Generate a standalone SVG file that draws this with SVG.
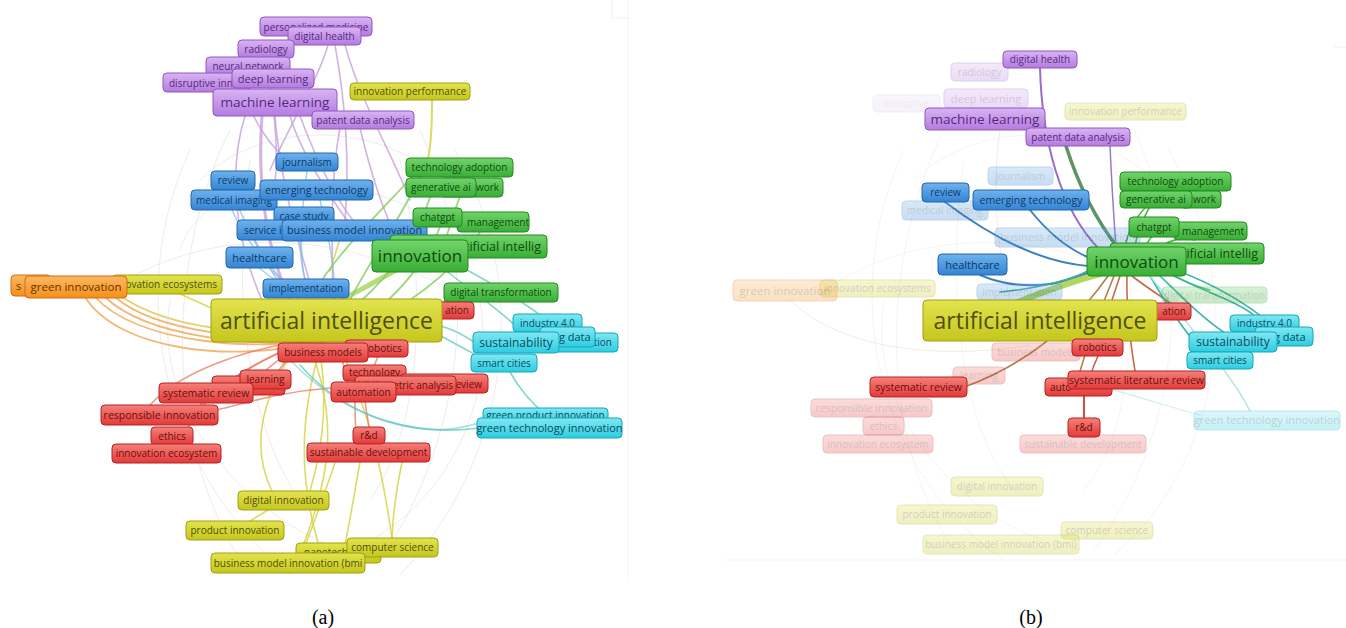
<svg xmlns="http://www.w3.org/2000/svg" width="1346" height="628" viewBox="0 0 1346 628">
<defs>
<linearGradient id="gpu" x1="0" y1="0" x2="0" y2="1"><stop offset="0" stop-color="#d9b4f3"/><stop offset="1" stop-color="#b37bdf"/></linearGradient>
<linearGradient id="gye" x1="0" y1="0" x2="0" y2="1"><stop offset="0" stop-color="#e3e34e"/><stop offset="1" stop-color="#c6c61e"/></linearGradient>
<linearGradient id="gbl" x1="0" y1="0" x2="0" y2="1"><stop offset="0" stop-color="#6fb2ee"/><stop offset="1" stop-color="#3384d4"/></linearGradient>
<linearGradient id="ggr" x1="0" y1="0" x2="0" y2="1"><stop offset="0" stop-color="#72d46c"/><stop offset="1" stop-color="#38ae34"/></linearGradient>
<linearGradient id="gre" x1="0" y1="0" x2="0" y2="1"><stop offset="0" stop-color="#f6807a"/><stop offset="1" stop-color="#e23a38"/></linearGradient>
<linearGradient id="gcy" x1="0" y1="0" x2="0" y2="1"><stop offset="0" stop-color="#80e8f2"/><stop offset="1" stop-color="#2ccde0"/></linearGradient>
<linearGradient id="gor" x1="0" y1="0" x2="0" y2="1"><stop offset="0" stop-color="#fcb862"/><stop offset="1" stop-color="#f5901a"/></linearGradient>
</defs>
<style>
text{font-family:"Open Sans","Liberation Sans",sans-serif;font-size:10px;text-anchor:middle}
.n rect{rx:4px;ry:4px;stroke-width:1}
.pu rect{fill:url(#gpu);stroke:#9256c2}.pu text{fill:#58287a}
.ye rect{fill:url(#gye);stroke:#a0a012}.ye text{fill:#50500c}
.bl rect{fill:url(#gbl);stroke:#2366ad}.bl text{fill:#0e3964}
.gr rect{fill:url(#ggr);stroke:#238a20}.gr text{fill:#0f4a0e}
.re rect{fill:url(#gre);stroke:#b52222}.re text{fill:#681010}
.cy rect{fill:url(#gcy);stroke:#16a6ba}.cy text{fill:#0c4c5e}
.or rect{fill:url(#gor);stroke:#d06e0e}.or text{fill:#683400}
.f{opacity:.27}.ff{opacity:.1}
.s11 text{font-size:11px}.m text{font-size:13.5px}.l text{font-size:17px}.xl text{font-size:23px}.s12 text{font-size:12px}
.st{text-anchor:start}.en{text-anchor:end}
#edges path,#edges-b path{fill:none;stroke-linecap:round}
.bg{stroke:#ededed;stroke-width:1}
.ep{stroke:#c49ad8;stroke-width:1.6;opacity:.75}
.ey{stroke:#d2d240;stroke-width:1.6;opacity:.8}
.eg{stroke:#84cc62;stroke-width:1.8;opacity:.8}
.eo{stroke:#eea04a;stroke-width:1.8;opacity:.75}
.er{stroke:#e87a62;stroke-width:1.6;opacity:.75}
.ec{stroke:#5cc6be;stroke-width:1.6;opacity:.75}
.eb{stroke:#86b6e0;stroke-width:1.5;opacity:.7}
.cap{font-family:"Liberation Serif",serif;font-size:20px;fill:#000}
</style>
<rect x="0" y="0" width="1346" height="628" fill="#fff"/>
<g id="frames" fill="none" stroke="#f0f0f0">
<path d="M612 0 V18 H628"/>
<path d="M628 0 V582" stroke="#f5f5f5"/>
<path d="M1334 47 H1346"/>
<path d="M725 560 H1346" stroke="#f5f5f5"/>
</g>

<g id="edges">
<path class="bg" d="M190 150 C120 300 170 480 290 575"/>
<path class="bg" d="M455 150 C540 300 500 470 400 575"/>
<path class="bg" d="M230 130 C170 250 160 430 240 560"/>
<path class="bg" d="M420 130 C480 260 470 430 380 560"/>
<path class="bg" d="M200 180 C260 120 380 120 440 180"/>
<path class="bg" d="M180 250 C200 180 330 150 450 230"/>
<path class="bg" d="M170 300 C150 420 260 520 330 545"/>
<path class="bg" d="M480 300 C500 430 420 520 360 545"/>
<path class="bg" d="M110 290 C200 230 330 220 470 300"/>
<path class="bg" d="M250 160 C230 300 250 430 300 500"/>
<path class="bg" d="M400 160 C430 300 420 430 370 500"/>
<path class="ep" d="M262 116 C258 170 262 240 290 300" style="stroke-width:3"/>
<path class="ep" d="M275 116 C280 180 300 250 315 300"/>
<path class="ep" d="M300 116 C320 170 350 230 380 245"/>
<path class="ep" d="M245 116 C228 170 235 240 262 300"/>
<path class="ep" d="M328 45 C318 80 292 120 270 170"/>
<path class="ep" d="M345 45 C360 100 390 150 410 200"/>
<path class="ep" d="M335 45 C345 100 350 160 345 220"/>
<path class="ep" d="M290 116 C300 150 330 200 362 240"/>
<path class="ep" d="M268 58 C272 100 282 160 272 200"/>
<path class="ep" d="M360 128 C370 170 382 210 398 240"/>
<path class="ep" d="M340 128 C330 180 332 240 333 300"/>
<path class="ep" d="M240 90 C255 120 270 150 290 160"/>
<path class="ey" d="M432 99 C432 130 430 150 428 158" style="stroke-width:2"/>
<path class="ey" d="M300 342 C258 400 252 450 272 491"/>
<path class="ey" d="M318 342 C330 400 322 450 310 491"/>
<path class="ey" d="M322 342 C298 420 300 480 318 543"/>
<path class="ey" d="M338 342 C372 420 382 470 392 538"/>
<path class="ey" d="M308 342 C340 420 330 480 300 553"/>
<path class="ey" d="M250 521 L268 510"/>
<path class="ey" d="M335 463 C322 500 312 530 302 553"/>
<path class="ey" d="M402 462 C396 490 393 515 392 538"/>
<path class="ey" d="M360 462 C355 490 350 520 345 545"/>
<path class="ey" d="M180 294 C205 305 220 312 232 318"/>
<path class="ey" d="M330 271 C335 255 340 240 342 230"/>
<path class="eg" d="M396 270 C372 284 352 294 338 302" style="stroke-width:5;stroke:#a4d45c"/>
<path class="eg" d="M420 177 C400 220 370 260 350 300"/>
<path class="eg" d="M430 197 C420 232 395 270 362 300"/>
<path class="eg" d="M440 227 C430 252 410 280 388 300"/>
<path class="eg" d="M480 232 C460 262 432 285 410 300"/>
<path class="eg" d="M446 300 C440 303 436 306 432 310"/>
<path class="eg" d="M412 177 C380 212 330 260 310 300"/>
<path class="eg" d="M466 177 C460 200 450 220 446 240"/>
<path class="eo" d="M95 297 C140 345 260 352 330 338"/>
<path class="eo" d="M105 297 C150 340 260 346 325 342"/>
<path class="eo" d="M115 297 C160 336 262 338 320 340"/>
<path class="eo" d="M85 297 C120 352 232 360 300 345"/>
<path class="eo" d="M122 297 C172 330 252 335 312 330" style="stroke:#d8c040"/>
<path class="er" d="M250 383 C270 366 285 355 300 343"/>
<path class="er" d="M200 405 C230 376 270 356 300 343"/>
<path class="er" d="M180 444 C200 392 250 362 305 343"/>
<path class="er" d="M150 405 C180 372 240 352 290 343"/>
<path class="er" d="M262 389 C276 376 286 362 296 345"/>
<path class="er" d="M216 410 C250 402 280 392 330 388"/>
<path class="er" d="M365 401 C366 410 368 420 369 427"/>
<path class="er" d="M343 362 C345 380 350 395 352 400"/>
<path class="er" d="M378 356 C374 368 368 378 366 382"/>
<path class="er" d="M355 402 C355 420 356 432 356 443"/>
<path class="ec" d="M441 326 C455 330 465 336 474 342"/>
<path class="ec" d="M440 266 C470 290 500 310 520 330"/>
<path class="ec" d="M452 262 C490 282 520 300 540 315"/>
<path class="ec" d="M300 365 C350 422 420 436 480 428"/>
<path class="ec" d="M290 360 C360 432 440 440 486 420" style="opacity:.5"/>
<path class="ec" d="M510 372 C520 390 530 400 540 410"/>
<path class="ec" d="M441 336 C466 350 478 356 490 362"/>
<path class="eb" d="M259 268 C280 285 300 295 310 300"/>
<path class="eb" d="M232 189 C245 230 270 270 290 300"/>
<path class="eb" d="M232 210 C250 250 280 280 300 300"/>
<path class="eb" d="M307 171 C300 220 300 260 305 280"/>
<path class="eb" d="M320 200 C330 240 335 270 335 300"/>
<path class="eb" d="M300 241 C300 260 305 280 308 290"/>
<path class="eb" d="M255 240 C270 270 290 290 300 300"/>
</g>

<g id="edges-b">
<path class="bg" d="M904 150 C834 300 884 480 1004 560" style="opacity:.6"/>
<path class="bg" d="M1169 150 C1254 300 1214 470 1114 555" style="opacity:.6"/>
<path class="bg" d="M944 130 C884 250 874 430 954 550" style="opacity:.6"/>
<path class="bg" d="M1134 130 C1194 260 1184 430 1094 550" style="opacity:.6"/>
<path class="bg" d="M914 180 C974 120 1094 120 1154 180" style="opacity:.6"/>
<path class="bg" d="M884 300 C864 420 974 520 1044 540" style="opacity:.6"/>
<path class="bg" d="M824 290 C914 230 1044 220 1184 300" style="opacity:.6"/>
<path class="bg" d="M964 160 C944 300 964 430 1014 490" style="opacity:.6"/>
<path class="bg" d="M1114 160 C1144 300 1134 430 1084 490" style="opacity:.6"/>
<path class="bg" d="M790 300 C840 350 940 360 1030 345" style="opacity:.6;stroke:#f6dcc0"/>
<path class="bg" d="M1000 130 C990 200 1000 260 1010 300" style="opacity:.6;stroke:#e8d8f0"/>
<path d="M1040 68 C1042 140 1060 210 1100 250" stroke="#9a6cc4" stroke-width="2"/>
<path d="M1066 146 C1080 190 1100 225 1118 248" stroke="#5c9466" stroke-width="3.5"/>
<path d="M1110 146 C1112 190 1114 220 1116 248" stroke="#9a7cc0" stroke-width="1.5"/>
<path d="M945 202 C990 236 1040 262 1088 266" stroke="#3c82bf" stroke-width="2"/>
<path d="M1030 210 C1050 235 1070 250 1090 258" stroke="#3c82bf" stroke-width="2"/>
<path d="M980 275 C1020 292 1060 286 1090 272" stroke="#3c82bf" stroke-width="2"/>
<path d="M1000 292 C1040 288 1070 280 1090 270" stroke="#4aa8a0" stroke-width="1.5"/>
<path d="M1100 274 C1070 282 1035 295 1010 305" stroke="#b0d860" stroke-width="6"/>
<path d="M1135 247 C1138 225 1150 205 1160 191" stroke="#4cb848" stroke-width="1.6"/>
<path d="M1125 247 C1128 230 1138 215 1145 208" stroke="#4cb848" stroke-width="1.6"/>
<path d="M1145 247 C1150 236 1160 228 1165 222" stroke="#4cb848" stroke-width="1.6"/>
<path d="M1160 247 C1170 240 1185 236 1195 240" stroke="#4cb848" stroke-width="1.6"/>
<path d="M1175 276 C1190 284 1200 288 1210 290" stroke="#6cc060" stroke-width="1.5"/>
<path d="M1120 276 C1112 300 1105 320 1100 339" stroke="#c86a48" stroke-width="1.6"/>
<path d="M1127 276 C1126 310 1130 340 1135 371" stroke="#c86a48" stroke-width="1.6"/>
<path d="M1114 276 C1100 310 1086 350 1078 378" stroke="#b87a48" stroke-width="1.6"/>
<path d="M1132 276 C1150 290 1164 298 1170 303" stroke="#c86a48" stroke-width="1.6"/>
<path d="M1084 395 L1084 418" stroke="#d05040" stroke-width="2"/>
<path d="M1098 356 C1094 364 1092 370 1090 378" stroke="#d05040" stroke-width="1.5"/>
<path d="M967 386 C1020 366 1070 330 1108 276" stroke="#a88450" stroke-width="1.6"/>
<path d="M1160 276 C1185 300 1205 320 1225 333" stroke="#3cb6ae" stroke-width="1.6"/>
<path d="M1170 274 C1200 290 1235 300 1255 316" stroke="#3cb6ae" stroke-width="1.6"/>
<path d="M1176 270 C1215 285 1250 305 1275 328" stroke="#3cb6ae" stroke-width="1.6"/>
<path d="M1150 276 C1170 310 1190 340 1205 352" stroke="#3cb6ae" stroke-width="1.6"/>
<path d="M1150 276 C1200 340 1235 380 1250 411" stroke="#a8e2e2" stroke-width="1.3"/>
<path d="M1110 389 C1150 400 1180 410 1200 415" stroke="#d8eeee" stroke-width="1.3"/>
</g>

<!-- Panel (a) nodes -->
<g id="a-personalized-medicine" class="n pu"><rect x="260" y="17" width="112" height="19"/><text x="316" y="30.5">personalized medicine</text></g>
<g id="a-digital-health" class="n pu"><rect x="288" y="27" width="73" height="18"/><text x="324.5" y="39.6">digital health</text></g>
<g id="a-radiology" class="n pu"><rect x="238" y="40" width="56" height="18"/><text x="266" y="52.6">radiology</text></g>
<g id="a-neural-network" class="n pu"><rect x="206" y="57" width="84" height="19"/><text x="248" y="70">neural network</text></g>
<g id="a-disruptive" class="n pu"><rect x="163" y="73" width="87" height="19"/><text class="st" x="169" y="86.5">disruptive inn</text></g>
<g id="a-deep-learning" class="n pu s11"><rect x="232" y="69" width="82" height="19"/><text x="273" y="82.5">deep learning</text></g>
<g id="a-machine-learning" class="n pu m"><rect x="213" y="89" width="124" height="27"/><text x="275" y="107.4">machine learning</text></g>
<g id="a-patent-data-analysis" class="n pu"><rect x="312" y="111" width="102" height="18"/><text x="363" y="123.6">patent data analysis</text></g>
<g id="a-innovation-performance" class="n ye"><rect x="350" y="83" width="120" height="17"/><text x="410" y="95.1">innovation performance</text></g>

<g id="a-journalism" class="n bl"><rect x="276" y="153" width="62" height="18"/><text x="307" y="165.6">journalism</text></g>
<g id="a-review" class="n bl"><rect x="211" y="171" width="44" height="19"/><text x="233" y="184.1">review</text></g>
<g id="a-medical-imaging" class="n bl"><rect x="191" y="190" width="86" height="20"/><text x="234" y="203.6">medical imaging</text></g>
<g id="a-emerging-technology" class="n bl"><rect x="260" y="180" width="113" height="20"/><text x="316.5" y="193.7" style="font-size:10.5px">emerging technology</text></g>
<g id="a-case-study" class="n bl"><rect x="274" y="207" width="60" height="18"/><text x="304" y="219.6">case study</text></g>
<g id="a-service" class="n bl"><rect x="237" y="220" width="65" height="20"/><text class="st" x="244" y="233.6">service i</text></g>
<g id="a-business-model-innovation" class="n bl"><rect x="282" y="220" width="145" height="21"/><text x="354.5" y="234.4" style="font-size:10.8px">business model innovation</text></g>
<g id="a-healthcare" class="n bl s11"><rect x="226" y="247" width="67" height="21"/><text x="259.5" y="261.5">healthcare</text></g>
<g id="a-implementation" class="n bl"><rect x="263" y="279" width="86" height="19"/><text x="306" y="292.2">implementation</text></g>

<g id="a-technology-adoption" class="n gr"><rect x="406" y="158" width="107" height="19"/><text x="459.5" y="171.1">technology adoption</text></g>
<g id="a-network" class="n gr"><rect x="440" y="178" width="63" height="19"/><text class="en" x="499" y="191.1">work</text></g>
<g id="a-generative-ai" class="n gr"><rect x="406" y="178" width="70" height="19"/><text x="441" y="191.1">generative ai</text></g>
<g id="a-artificial-intellig" class="n gr"><rect x="390" y="235" width="157" height="23"/><text class="en" x="541" y="251" style="font-size:12.5px">tificial intellig</text></g>
<g id="a-management" class="n gr"><rect x="457" y="212" width="72" height="20"/><text x="498" y="225.6">management</text></g>
<g id="a-chatgpt" class="n gr"><rect x="413" y="208" width="49" height="19"/><text x="437.5" y="221.1">chatgpt</text></g>
<g id="a-innovation" class="n gr l"><rect x="372" y="240" width="96" height="32"/><text x="420" y="262.1">innovation</text></g>
<g id="a-digital-transformation" class="n gr"><rect x="444" y="283" width="114" height="19"/><text x="501" y="296.1">digital transformation</text></g>

<g id="a-innovation-ecosystems" class="n ye"><rect x="112" y="275" width="110" height="19"/><text class="en" x="217" y="288.1">novation ecosystems</text></g>
<g id="a-s" class="n or"><rect x="11" y="275" width="40" height="21"/><text class="st" x="16" y="289.5" style="font-size:11px">s</text></g>
<g id="a-green-innovation" class="n or"><rect x="25" y="276" width="102" height="22"/><text x="76" y="291.2" style="font-size:11.5px">green innovation</text></g>

<g id="a-ation" class="n re"><rect x="400" y="302" width="74" height="17"/><text class="en" x="469" y="314.4">ation</text></g>
<g id="a-artificial-intelligence" class="n ye xl"><rect x="211" y="299" width="231" height="43"/><text x="326.5" y="328.8">artificial intelligence</text></g>

<g id="a-robotics" class="n re"><rect x="345" y="340" width="63" height="17"/><text class="st" x="368" y="352.4">obotics</text></g>
<g id="a-business-models" class="n re"><rect x="278" y="343" width="90" height="19"/><text x="323" y="356.1">business models</text></g>
<g id="a-technology" class="n re"><rect x="343" y="365" width="63" height="16"/><text x="374.5" y="376">technology</text></g>
<g id="a-eview" class="n re"><rect x="400" y="374" width="88" height="19"/><text class="en" x="482" y="387.6">eview</text></g>
<g id="a-bibliometric-analysis" class="n re"><rect x="355" y="376" width="101" height="19"/><text x="405.5" y="389.1">bibliometric analysis</text></g>
<g id="a-automation" class="n re"><rect x="331" y="382" width="65" height="20"/><text x="363.5" y="395.6">automation</text></g>
<g id="a-red-hidden" class="n re"><rect x="212" y="376" width="73" height="19"/></g>
<g id="a-learning" class="n re"><rect x="240" y="370" width="51" height="19"/><text x="265.5" y="383.1">learning</text></g>
<g id="a-systematic-review" class="n re"><rect x="159" y="383" width="94" height="20"/><text x="206" y="396.7" style="font-size:10.5px">systematic review</text></g>
<g id="a-responsible-innovation" class="n re"><rect x="101" y="405" width="117" height="20"/><text x="159.5" y="418.7" style="font-size:10.5px">responsible innovation</text></g>
<g id="a-ethics" class="n re"><rect x="151" y="427" width="42" height="18"/><text x="172" y="439.6">ethics</text></g>
<g id="a-innovation-ecosystem" class="n re"><rect x="112" y="444" width="109" height="19"/><text x="166.5" y="457.1">innovation ecosystem</text></g>
<g id="a-sustainable-development" class="n re"><rect x="307" y="443" width="123" height="19"/><text x="368.5" y="456.1">sustainable development</text></g>
<g id="a-rd" class="n re"><rect x="353" y="427" width="32" height="17"/><text x="369" y="439.1">r&amp;d</text></g>

<g id="a-industry" class="n cy"><rect x="513" y="314" width="69" height="18"/><text x="547.5" y="326.6">industry 4.0</text></g>
<g id="a-tion" class="n cy"><rect x="540" y="333" width="78" height="19"/><text class="en" x="612" y="346.1">tion</text></g>
<g id="a-big-data" class="n cy s11"><rect x="540" y="327" width="55" height="20"/><text x="570" y="341">big data</text></g>
<g id="a-sustainability" class="n cy s12"><rect x="473" y="332" width="86" height="21"/><text x="516" y="346.8">sustainability</text></g>
<g id="a-smart-cities" class="n cy"><rect x="471" y="354" width="66" height="18"/><text x="504" y="366.6">smart cities</text></g>
<g id="a-green-product-innovation" class="n cy"><rect x="483" y="408" width="125" height="16"/><text x="545.5" y="419">green product innovation</text></g>
<g id="a-green-technology-innovation" class="n cy s11"><rect x="477" y="418" width="145" height="20"/><text x="549.5" y="431.9">green technology innovation</text></g>

<g id="a-digital-innovation" class="n ye"><rect x="238" y="491" width="91" height="19"/><text x="283.5" y="504.1">digital innovation</text></g>
<g id="a-product-innovation" class="n ye"><rect x="186" y="521" width="98" height="19"/><text x="235" y="534.1">product innovation</text></g>
<g id="a-nanotech" class="n ye"><rect x="296" y="543" width="85" height="20"/><text class="st" x="304" y="556">nanotech</text></g>
<g id="a-computer-science" class="n ye"><rect x="347" y="538" width="91" height="19"/><text x="392.5" y="551.1">computer science</text></g>
<g id="a-bmi" class="n ye"><rect x="211" y="553" width="154" height="20"/><text x="288" y="566.6">business model innovation (bmi</text></g>

<!-- Panel (b) faded nodes -->
<g id="b-disruptive" class="n pu ff"><rect x="873" y="95" width="67" height="17"/><text x="906" y="107">disruptive</text></g>
<g id="b-radiology" class="n pu f"><rect x="951" y="63" width="57" height="18"/><text x="979.5" y="75.6">radiology</text></g>
<g id="b-deep-learning" class="n pu f s11"><rect x="944" y="89" width="84" height="19"/><text x="986" y="102.5">deep learning</text></g>
<g id="b-innovation-performance" class="n ye f"><rect x="1065" y="103" width="121" height="17"/><text x="1125.5" y="115.1">innovation performance</text></g>
<g id="b-journalism" class="n bl f"><rect x="988" y="167" width="65" height="18"/><text x="1020.5" y="179.6">journalism</text></g>
<g id="b-medical-imaging" class="n bl f"><rect x="902" y="201" width="86" height="19"/><text x="945" y="214.1">medical imaging</text></g>
<g id="b-business-model-innovation" class="n bl f"><rect x="995" y="228" width="145" height="19"/><text x="1067.5" y="241.3" style="font-size:10.8px">business model innovation</text></g>
<g id="b-innovation-ecosystems" class="n ye f"><rect x="820" y="280" width="115" height="17"/><text x="877.5" y="292.1">innovation ecosystems</text></g>
<g id="b-green-innovation" class="n or f"><rect x="733" y="280" width="104" height="21"/><text x="785" y="294.6" style="font-size:11.5px">green innovation</text></g>
<g id="b-implementation" class="n bl f"><rect x="977" y="284" width="85" height="16"/><text x="1019.5" y="295.6">implementation</text></g>
<g id="b-digital-transformation" class="n gr f"><rect x="1162" y="287" width="105" height="16"/><text x="1214.5" y="298.6">digital transformation</text></g>
<g id="b-business-models" class="n re f"><rect x="992" y="343" width="88" height="18"/><text x="1036" y="355.6">business models</text></g>
<g id="b-learning" class="n re f"><rect x="953" y="367" width="52" height="17"/><text x="979" y="379.1">learning</text></g>
<g id="b-responsible-innovation" class="n re f"><rect x="811" y="399" width="121" height="18"/><text x="871.5" y="411.7" style="font-size:10.5px">responsible innovation</text></g>
<g id="b-ethics" class="n re f"><rect x="863" y="417" width="41" height="18"/><text x="883.5" y="429.6">ethics</text></g>
<g id="b-innovation-ecosystem" class="n re f"><rect x="823" y="435" width="110" height="18"/><text x="878" y="447.6">innovation ecosystem</text></g>
<g id="b-sustainable-development" class="n re f"><rect x="1020" y="435" width="126" height="18"/><text x="1083" y="447.6">sustainable development</text></g>
<g id="b-green-technology-innovation" class="n cy f s11"><rect x="1194" y="411" width="146" height="19"/><text x="1267" y="424.4">green technology innovation</text></g>
<g id="b-digital-innovation" class="n ye f"><rect x="951" y="477" width="92" height="19"/><text x="997" y="490.1">digital innovation</text></g>
<g id="b-product-innovation" class="n ye f"><rect x="897" y="505" width="100" height="19"/><text x="947" y="518.1">product innovation</text></g>
<g id="b-computer-science" class="n ye f"><rect x="1061" y="522" width="92" height="17"/><text x="1107" y="534.1">computer science</text></g>
<g id="b-bmi" class="n ye f"><rect x="923" y="535" width="156" height="19"/><text x="1001" y="548.1">business model innovation (bmi)</text></g>

<!-- Panel (b) highlighted nodes -->
<g id="b-digital-health" class="n pu"><rect x="1003" y="51" width="74" height="17"/><text x="1040" y="63.1">digital health</text></g>
<g id="b-machine-learning" class="n pu m"><rect x="925" y="108" width="120" height="22"/><text x="985" y="123.9">machine learning</text></g>
<g id="b-patent-data-analysis" class="n pu"><rect x="1026" y="128" width="104" height="18"/><text x="1078" y="140.6">patent data analysis</text></g>
<g id="b-review" class="n bl"><rect x="922" y="183" width="47" height="19"/><text x="945.5" y="196.1">review</text></g>
<g id="b-emerging-technology" class="n bl"><rect x="973" y="190" width="116" height="20"/><text x="1031" y="203.7" style="font-size:10.5px">emerging technology</text></g>
<g id="b-healthcare" class="n bl s11"><rect x="938" y="254" width="69" height="21"/><text x="972.5" y="268.5">healthcare</text></g>
<g id="b-technology-adoption" class="n gr"><rect x="1120" y="172" width="111" height="19"/><text x="1175.5" y="185.1">technology adoption</text></g>
<g id="b-network" class="n gr"><rect x="1180" y="191" width="41" height="17"/><text class="en" x="1216" y="203.1">work</text></g>
<g id="b-generative-ai" class="n gr"><rect x="1120" y="191" width="72" height="17"/><text x="1156" y="203.1">generative ai</text></g>
<g id="b-artificial-intellig" class="n gr"><rect x="1110" y="243" width="154" height="21"/><text class="en" x="1258" y="258" style="font-size:12.5px">tificial intellig</text></g>
<g id="b-management" class="n gr"><rect x="1174" y="222" width="73" height="18"/><text x="1213" y="234.6">management</text></g>
<g id="b-chatgpt" class="n gr"><rect x="1129" y="217" width="50" height="20"/><text x="1154" y="230.6">chatgpt</text></g>
<g id="b-innovation" class="n gr l"><rect x="1087" y="247" width="99" height="29"/><text x="1136.5" y="267.6">innovation</text></g>
<g id="b-ation" class="n re"><rect x="1140" y="303" width="51" height="17"/><text class="en" x="1186" y="315.4">ation</text></g>
<g id="b-artificial-intelligence" class="n ye xl"><rect x="923" y="300" width="234" height="41"/><text x="1040" y="328.8">artificial intelligence</text></g>
<g id="b-industry" class="n cy"><rect x="1230" y="315" width="69" height="17"/><text x="1264.5" y="327">industry 4.0</text></g>
<g id="b-big-data" class="n cy s11"><rect x="1255" y="327" width="58" height="19"/><text x="1285" y="340.5">big data</text></g>
<g id="b-sustainability" class="n cy s12"><rect x="1189" y="332" width="88" height="20"/><text x="1233" y="346.3">sustainability</text></g>
<g id="b-smart-cities" class="n cy"><rect x="1187" y="352" width="66" height="17"/><text x="1220" y="364.1">smart cities</text></g>
<g id="b-robotics" class="n re"><rect x="1072" y="339" width="51" height="17"/><text x="1097.5" y="351.1">robotics</text></g>
<g id="b-systematic-review" class="n re"><rect x="870" y="377" width="97" height="20"/><text x="918.5" y="390.7" style="font-size:10.5px">systematic review</text></g>
<g id="b-automation" class="n re"><rect x="1045" y="378" width="67" height="18"/><text class="st" x="1050" y="390.6">auto</text></g>
<g id="b-systematic-literature-review" class="n re"><rect x="1068" y="371" width="137" height="18"/><text x="1136.5" y="383.7" style="font-size:10.5px">systematic literature review</text></g>
<g id="b-rd" class="n re"><rect x="1068" y="418" width="32" height="19"/><text x="1084" y="431.1">r&amp;d</text></g>

<g id="captions">
<text class="cap" x="323" y="624">(a)</text>
<text class="cap" x="1031" y="624">(b)</text>
</g>
</svg>
